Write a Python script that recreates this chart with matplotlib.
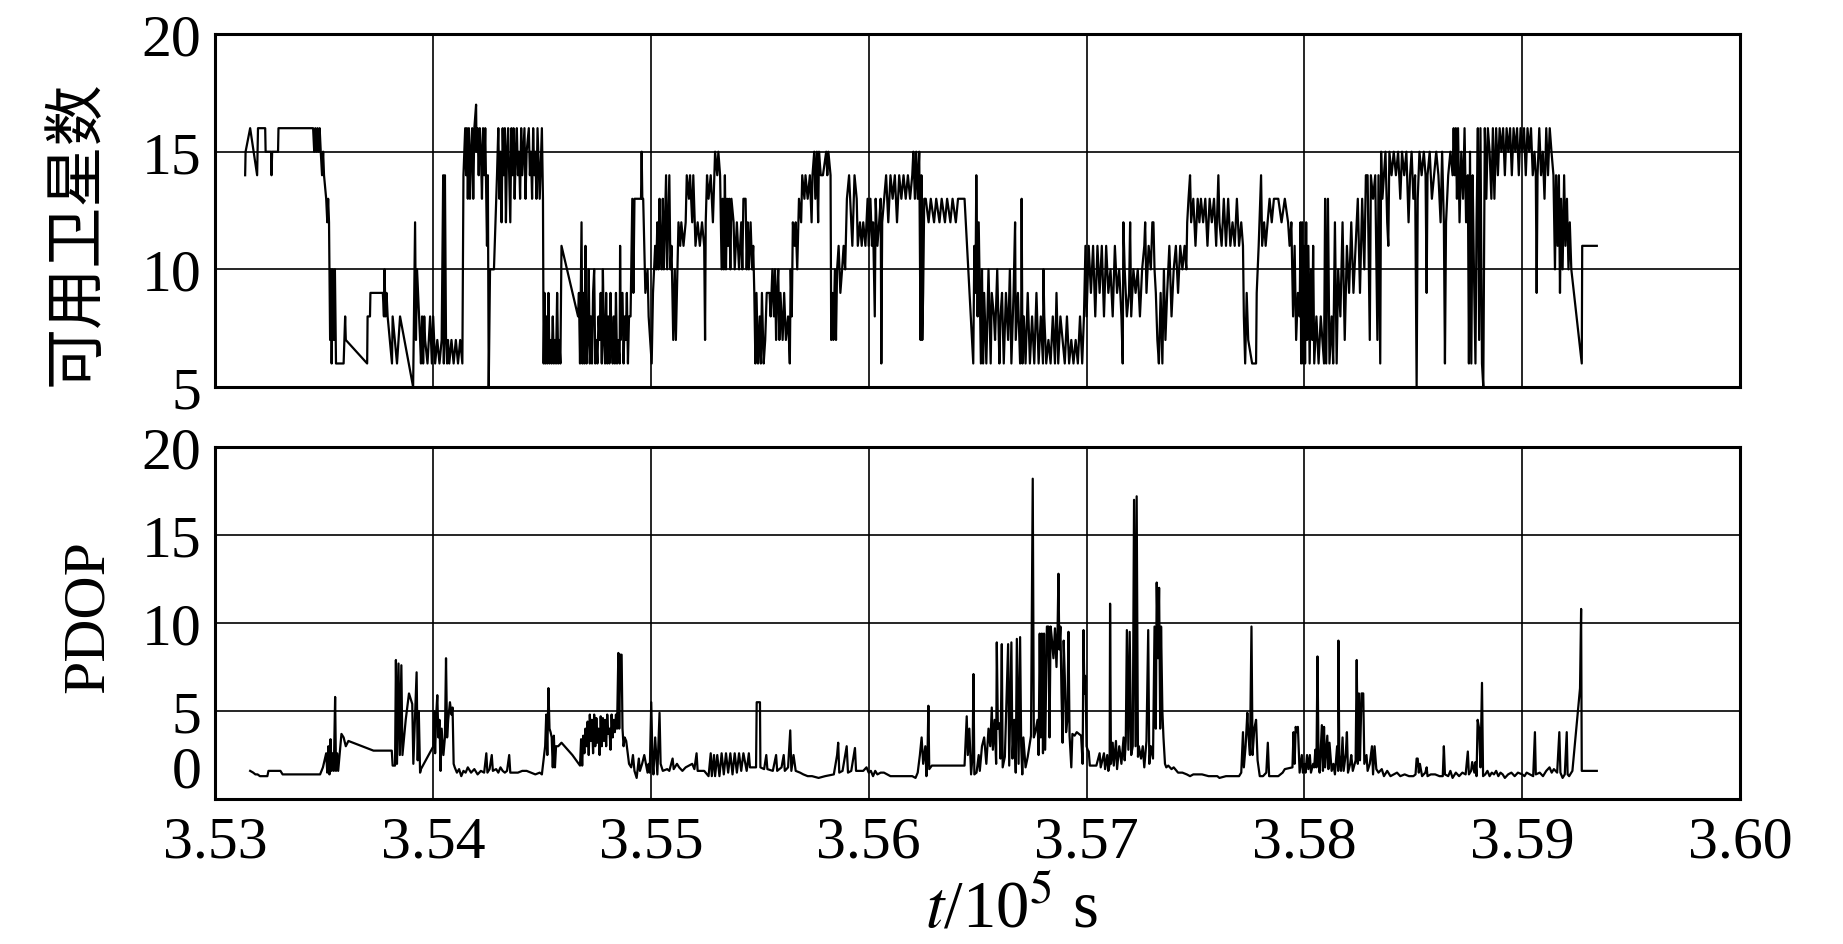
import matplotlib
matplotlib.use("Agg")
import matplotlib.pyplot as plt

# time base (s); sample times are given as seconds after T0
T0 = 353000

# ---- available satellites ----
t_sats = [
    138, 140, 161, 193, 197, 230, 232, 257, 259, 262,
    289, 291, 450, 455, 460, 465, 470, 475, 480, 485,
    491, 496, 500, 510, 515, 519, 523, 528, 532, 535,
    540, 545, 550, 555, 560, 590, 597, 600, 698, 700,
    711, 713, 770, 775, 778, 782, 787, 792, 812, 815,
    835, 849, 909, 918, 922, 927, 941, 945, 950, 955,
    960, 964, 975, 987, 995, 1001, 1010, 1020, 1030, 1040,
    1047, 1050, 1055, 1060, 1065, 1069, 1075, 1085, 1095, 1105,
    1115, 1125, 1135, 1140, 1148, 1152, 1156, 1160, 1165, 1170,
    1175, 1180, 1185, 1190, 1198, 1200, 1205, 1210, 1215, 1220,
    1225, 1230, 1235, 1240, 1248, 1252, 1256, 1262, 1280, 1294,
    1300, 1305, 1310, 1315, 1320, 1325, 1330, 1335, 1340, 1345,
    1350, 1355, 1360, 1365, 1370, 1375, 1380, 1385, 1390, 1395,
    1400, 1405, 1410, 1420, 1425, 1430, 1440, 1445, 1450, 1455,
    1460, 1465, 1470, 1475, 1480, 1490, 1500, 1505, 1508, 1512,
    1516, 1520, 1525, 1530, 1535, 1540, 1545, 1550, 1555, 1560,
    1565, 1570, 1575, 1580, 1585, 1590, 1666, 1670, 1675, 1682,
    1686, 1690, 1695, 1700, 1705, 1710, 1715, 1720, 1725, 1730,
    1735, 1740, 1745, 1750, 1755, 1760, 1765, 1770, 1775, 1780,
    1785, 1790, 1795, 1800, 1805, 1810, 1815, 1820, 1825, 1830,
    1835, 1840, 1845, 1850, 1857, 1859, 1862, 1870, 1875, 1880,
    1885, 1890, 1895, 1900, 1907, 1915, 1920, 1925, 1955, 1958,
    1961, 1965, 1975, 1985, 1990, 2004, 2010, 2020, 2025, 2030,
    2035, 2040, 2045, 2050, 2055, 2060, 2065, 2070, 2075, 2080,
    2085, 2090, 2095, 2103, 2110, 2115, 2122, 2127, 2135, 2140,
    2150, 2160, 2165, 2175, 2180, 2190, 2195, 2205, 2215, 2225,
    2235, 2245, 2249, 2252, 2258, 2265, 2275, 2285, 2292, 2295,
    2305, 2310, 2318, 2325, 2330, 2335, 2340, 2345, 2350, 2355,
    2360, 2365, 2370, 2380, 2385, 2395, 2405, 2415, 2420, 2425,
    2435, 2440, 2445, 2450, 2458, 2465, 2470, 2475, 2480, 2485,
    2492, 2500, 2505, 2510, 2518, 2525, 2532, 2545, 2550, 2558,
    2565, 2570, 2575, 2580, 2585, 2590, 2595, 2600, 2605, 2612,
    2620, 2630, 2638, 2642, 2647, 2652, 2660, 2665, 2672, 2680,
    2690, 2695, 2705, 2710, 2720, 2730, 2738, 2742, 2750, 2755,
    2762, 2768, 2772, 2780, 2790, 2805, 2810, 2815, 2825, 2828,
    2833, 2838, 2845, 2850, 2855, 2862, 2870, 2878, 2885, 2892,
    2900, 2910, 2915, 2925, 2935, 2945, 2950, 2960, 2968, 2975,
    2985, 2995, 3000, 3008, 3015, 3020, 3028, 3032, 3040, 3048,
    3055, 3058, 3062, 3080, 3090, 3100, 3110, 3120, 3130, 3140,
    3150, 3160, 3170, 3180, 3190, 3200, 3205, 3212, 3218, 3225,
    3232, 3238, 3242, 3246, 3250, 3255, 3262, 3275, 3285, 3300,
    3310, 3325, 3335, 3350, 3360, 3375, 3385, 3400, 3410, 3425,
    3440, 3480, 3485, 3490, 3494, 3500, 3505, 3510, 3515, 3520,
    3525, 3530, 3540, 3545, 3550, 3560, 3565, 3575, 3580, 3590,
    3600, 3605, 3612, 3620, 3630, 3640, 3648, 3655, 3665, 3672,
    3675, 3685, 3695, 3700, 3702, 3706, 3712, 3720, 3730, 3740,
    3750, 3760, 3770, 3780, 3790, 3800, 3802, 3806, 3815, 3825,
    3835, 3845, 3855, 3862, 3870, 3880, 3890, 3900, 3910, 3920,
    3930, 3940, 3950, 3960, 3970, 3980, 3988, 3995, 4000, 4010,
    4020, 4030, 4040, 4050, 4060, 4070, 4080, 4090, 4100, 4110,
    4120, 4130, 4140, 4150, 4160, 4166, 4169, 4175, 4185, 4195,
    4200, 4205, 4215, 4225, 4235, 4245, 4255, 4265, 4269, 4275,
    4285, 4295, 4302, 4307, 4312, 4318, 4325, 4332, 4340, 4348,
    4355, 4362, 4370, 4380, 4390, 4400, 4410, 4420, 4430, 4440,
    4450, 4458, 4462, 4468, 4475, 4480, 4490, 4500, 4510, 4518,
    4525, 4535, 4545, 4555, 4565, 4575, 4585, 4595, 4605, 4610,
    4620, 4630, 4640, 4650, 4660, 4670, 4680, 4690, 4700, 4710,
    4718, 4722, 4728, 4735, 4742, 4760, 4778, 4781, 4790, 4801,
    4806, 4815, 4822, 4840, 4850, 4860, 4880, 4895, 4910, 4925,
    4932, 4940, 4948, 4955, 4962, 4970, 4978, 4982, 4985, 4990,
    4994, 4998, 5003, 5008, 5012, 5018, 5024, 5030, 5036, 5040,
    5045, 5055, 5065, 5075, 5090, 5095, 5100, 5108, 5115, 5125,
    5132, 5140, 5148, 5155, 5165, 5175, 5185, 5195, 5205, 5215,
    5225, 5235, 5245, 5255, 5265, 5275, 5282, 5290, 5300, 5305,
    5315, 5325, 5335, 5340, 5348, 5352, 5358, 5365, 5372, 5380,
    5385, 5390, 5400, 5410, 5420, 5430, 5440, 5448, 5458, 5468,
    5478, 5485, 5492, 5500, 5508, 5515, 5520, 5528, 5538, 5548,
    5556, 5561, 5565, 5575, 5585, 5595, 5605, 5615, 5625, 5632,
    5640, 5645, 5650, 5660, 5670, 5680, 5685, 5690, 5695, 5700,
    5705, 5712, 5720, 5728, 5735, 5742, 5750, 5755, 5760, 5766,
    5772, 5778, 5785, 5790, 5796, 5802, 5808, 5815, 5821, 5828,
    5835, 5842, 5850, 5858, 5865, 5872, 5880, 5888, 5896, 5904,
    5912, 5920, 5928, 5936, 5944, 5952, 5960, 5968, 5976, 5984,
    5992, 6000, 6008, 6016, 6024, 6032, 6040, 6048, 6056, 6062,
    6066, 6070, 6078, 6086, 6094, 6102, 6110, 6118, 6126, 6134,
    6143, 6150, 6155, 6162, 6168, 6173, 6178, 6185, 6192, 6198,
    6205, 6212, 6218, 6225, 6273, 6275, 6342,
]
n_sats = [
    14, 15, 16, 14, 16, 16, 15, 15, 14, 15,
    15, 16, 16, 15, 16, 15, 16, 15, 16, 15,
    14, 15, 14, 13, 12, 13, 12, 7, 10, 6,
    10, 7, 10, 6, 6, 6, 8, 7, 6, 8,
    8, 9, 9, 8, 10, 8, 9, 8, 6, 8,
    6, 8, 5, 12, 7, 10, 7, 6, 8, 6,
    8, 7, 6, 8, 6, 8, 6, 7, 6, 7,
    14, 6, 14, 7, 6, 7, 6, 7, 6, 7,
    6, 7, 6, 14, 16, 14, 16, 13, 16, 13,
    15, 16, 13, 16, 17, 15, 16, 14, 16, 15,
    13, 16, 14, 16, 11, 14, 5, 10, 10, 14,
    16, 13, 15, 12, 16, 14, 16, 12, 15, 16,
    14, 12, 16, 14, 16, 13, 15, 16, 14, 15,
    13, 16, 14, 16, 13, 15, 16, 14, 15, 13,
    16, 14, 15, 13, 16, 13, 16, 13, 6, 9,
    6, 8, 6, 9, 6, 7, 6, 8, 6, 7,
    6, 9, 6, 7, 6, 11, 8, 9, 6, 12,
    6, 9, 6, 11, 6, 7, 10, 6, 8, 6,
    9, 10, 6, 7, 6, 8, 7, 9, 6, 10,
    7, 6, 9, 6, 8, 6, 9, 7, 6, 8,
    6, 9, 6, 7, 6, 11, 7, 9, 6, 8,
    7, 9, 6, 8, 8, 13, 9, 13, 13, 15,
    13, 13, 9, 10, 8, 6, 9, 11, 10, 12,
    10, 13, 11, 10, 13, 10, 12, 14, 10, 12,
    14, 10, 11, 7, 10, 7, 10, 12, 11, 12,
    11, 12, 14, 13, 14, 12, 14, 11, 12, 11,
    12, 11, 7, 12, 14, 13, 14, 12, 14, 15,
    14, 15, 14, 10, 13, 10, 14, 10, 13, 11,
    13, 10, 13, 12, 10, 12, 10, 12, 10, 13,
    13, 10, 12, 10, 12, 10, 11, 9, 6, 9,
    6, 8, 6, 9, 6, 7, 9, 9, 8, 10,
    8, 10, 7, 9, 10, 7, 9, 8, 7, 9,
    7, 8, 6, 10, 8, 12, 11, 12, 10, 13,
    12, 14, 13, 14, 13, 14, 12, 14, 15, 13,
    15, 12, 15, 14, 14, 15, 14, 15, 14, 7,
    9, 7, 10, 7, 10, 11, 9, 10, 11, 10,
    13, 14, 13, 11, 14, 13, 11, 12, 11, 12,
    11, 13, 11, 13, 11, 12, 8, 13, 11, 12,
    13, 6, 12, 14, 12, 14, 13, 14, 12, 14,
    13, 14, 13, 14, 13, 14, 15, 13, 15, 13,
    15, 7, 14, 7, 9, 13, 13, 12, 13, 12,
    13, 12, 13, 12, 13, 12, 13, 12, 13, 13,
    13, 6, 11, 9, 14, 8, 12, 9, 6, 10,
    6, 9, 6, 8, 10, 6, 9, 8, 7, 10,
    6, 8, 9, 6, 9, 7, 10, 6, 9, 12,
    7, 9, 6, 8, 13, 6, 8, 6, 9, 6,
    8, 6, 9, 6, 8, 6, 10, 8, 6, 7,
    6, 8, 6, 9, 6, 8, 7, 6, 8, 6,
    7, 6, 7, 6, 8, 6, 8, 11, 8, 11,
    9, 11, 8, 11, 9, 11, 8, 11, 9, 10,
    8, 11, 9, 10, 8, 6, 12, 10, 8, 9,
    12, 8, 10, 9, 10, 8, 10, 11, 12, 9,
    11, 10, 12, 12, 10, 9, 7, 6, 9, 6,
    10, 7, 9, 11, 8, 10, 11, 9, 11, 10,
    11, 10, 12, 13, 14, 12, 13, 11, 13, 12,
    13, 12, 13, 11, 13, 12, 13, 11, 14, 12,
    11, 13, 11, 13, 11, 12, 11, 13, 11, 12,
    11, 8, 6, 9, 7, 6, 6, 9, 11, 14,
    11, 12, 11, 13, 12, 13, 13, 12, 13, 12,
    11, 12, 8, 11, 7, 9, 8, 12, 6, 12,
    6, 11, 6, 12, 7, 11, 6, 10, 7, 11,
    6, 8, 6, 8, 6, 13, 6, 13, 6, 8,
    6, 12, 6, 10, 8, 12, 7, 11, 9, 12,
    9, 11, 13, 9, 13, 10, 14, 14, 7, 14,
    13, 14, 7, 14, 6, 15, 13, 14, 15, 12,
    11, 15, 14, 15, 14, 15, 13, 15, 14, 15,
    12, 14, 15, 13, 14, 5, 13, 15, 14, 15,
    14, 9, 14, 15, 13, 14, 15, 14, 12, 15,
    12, 6, 12, 14, 15, 14, 16, 14, 16, 13,
    16, 12, 15, 13, 16, 12, 14, 6, 15, 6,
    14, 10, 6, 12, 16, 7, 16, 6, 5, 16,
    13, 16, 15, 13, 16, 13, 16, 14, 16, 15,
    16, 14, 16, 15, 16, 14, 16, 15, 16, 14,
    16, 15, 16, 14, 16, 15, 16, 14, 15, 14,
    9, 14, 16, 14, 15, 13, 16, 14, 16, 15,
    14, 10, 14, 11, 14, 9, 13, 10, 14, 11,
    13, 10, 12, 10, 6, 11, 11,
]

# ---- PDOP ----
t_pdop = [
    161, 175, 185, 195, 206, 240, 245, 300, 310, 482,
    495, 510, 515, 520, 525, 530, 535, 540, 545, 551,
    555, 560, 565, 575, 580, 590, 600, 612, 727, 811,
    815, 826, 830, 835, 842, 848, 855, 860, 875, 890,
    905, 910, 925, 930, 935, 941, 945, 1002, 1005, 1010,
    1015, 1020, 1025, 1030, 1035, 1040, 1048, 1055, 1060, 1065,
    1070, 1078, 1085, 1090, 1095, 1100, 1110, 1120, 1130, 1140,
    1150, 1160, 1175, 1190, 1205, 1220, 1235, 1245, 1250, 1260,
    1270, 1275, 1290, 1300, 1310, 1320, 1330, 1340, 1350, 1355,
    1370, 1390, 1410, 1430, 1450, 1470, 1490, 1500, 1510, 1515,
    1520, 1525, 1530, 1535, 1540, 1545, 1550, 1555, 1560, 1565,
    1575, 1590, 1640, 1675, 1680, 1685, 1690, 1695, 1700, 1705,
    1710, 1715, 1720, 1725, 1730, 1735, 1740, 1745, 1750, 1755,
    1760, 1765, 1770, 1775, 1780, 1785, 1790, 1795, 1800, 1805,
    1810, 1815, 1820, 1825, 1830, 1835, 1840, 1845, 1851, 1855,
    1860, 1866, 1870, 1875, 1880, 1887, 1893, 1900, 1910, 1918,
    1925, 1935, 1945, 1950, 1960, 1970, 1985, 1990, 1995, 2002,
    2008, 2012, 2020, 2030, 2040, 2045, 2055, 2075, 2085, 2100,
    2105, 2120, 2130, 2145, 2160, 2175, 2190, 2200, 2210, 2215,
    2230, 2245, 2265, 2275, 2280, 2290, 2295, 2305, 2315, 2325,
    2335, 2345, 2355, 2365, 2375, 2385, 2395, 2405, 2415, 2425,
    2440, 2450, 2455, 2483, 2486, 2501, 2503, 2520, 2530, 2535,
    2560, 2575, 2580, 2600, 2610, 2615, 2630, 2640, 2645, 2655,
    2665, 2685, 2700, 2720, 2740, 2770, 2800, 2840, 2855, 2860,
    2865, 2880, 2899, 2905, 2920, 2937, 2942, 2960, 2975, 2990,
    3000, 3010, 3020, 3030, 3040, 3055, 3070, 3100, 3200, 3215,
    3225, 3235, 3243, 3250, 3260, 3265, 3270, 3274, 3278, 3290,
    3440, 3450, 3455, 3462, 3470, 3477, 3481, 3485, 3495, 3505,
    3510, 3520, 3530, 3540, 3550, 3558, 3565, 3570, 3578, 3585,
    3588, 3593, 3600, 3605, 3611, 3615, 3625, 3640, 3645, 3655,
    3660, 3668, 3675, 3680, 3688, 3695, 3700, 3705, 3710, 3720,
    3730, 3745, 3753, 3758, 3765, 3775, 3780, 3785, 3790, 3795,
    3800, 3805, 3810, 3818, 3825, 3830, 3835, 3840, 3848, 3855,
    3862, 3867, 3871, 3875, 3880, 3885, 3890, 3895, 3900, 3906,
    3912, 3917, 3922, 3930, 3935, 3945, 3955, 3965, 3975, 3982,
    3986, 3990, 3995, 4000, 4005, 4010, 4015, 4030, 4045, 4060,
    4065, 4080, 4085, 4095, 4100, 4106, 4108, 4112, 4120, 4125,
    4135, 4140, 4150, 4160, 4170, 4175, 4180, 4185, 4192, 4198,
    4205, 4212, 4218, 4225, 4230, 4236, 4240, 4250, 4258, 4265,
    4275, 4283, 4288, 4295, 4305, 4312, 4318, 4322, 4328, 4333,
    4338, 4342, 4348, 4353, 4360, 4366, 4375, 4390, 4400, 4420,
    4440, 4460, 4475, 4490, 4530, 4560, 4600, 4610, 4640, 4680,
    4700, 4710, 4718, 4722, 4730, 4738, 4742, 4750, 4757, 4762,
    4770, 4778, 4785, 4795, 4810, 4825, 4832, 4838, 4860, 4880,
    4900, 4910, 4945, 4950, 4955, 4960, 4965, 4970, 4978, 4988,
    4993, 5000, 5005, 5012, 5018, 5025, 5030, 5040, 5045, 5050,
    5055, 5060, 5065, 5070, 5080, 5085, 5090, 5095, 5105, 5110,
    5115, 5125, 5133, 5140, 5150, 5155, 5156, 5160, 5168, 5175,
    5180, 5190, 5195, 5200, 5210, 5215, 5222, 5235, 5240, 5245,
    5250, 5255, 5262, 5270, 5275, 5285, 5290, 5300, 5310, 5315,
    5322, 5330, 5340, 5355, 5365, 5380, 5395, 5410, 5425, 5440,
    5460, 5480, 5500, 5510, 5515, 5520, 5525, 5530, 5540, 5555,
    5561, 5565, 5580, 5600, 5620, 5635, 5640, 5645, 5660, 5670,
    5680, 5695, 5710, 5725, 5740, 5750, 5755, 5765, 5770, 5780,
    5785, 5790, 5795, 5802, 5808, 5815, 5820, 5830, 5840, 5850,
    5860, 5870, 5880, 5890, 5900, 5910, 5920, 5935, 5950, 5965,
    5980, 6000, 6010, 6020, 6035, 6050, 6058, 6062, 6080, 6095,
    6110, 6125, 6135, 6145, 6160, 6170, 6175, 6185, 6195, 6204,
    6208, 6215, 6230, 6265, 6270, 6273, 6342,
]
pdop = [
    1.6, 1.5, 1.4, 1.4, 1.3, 1.3, 1.6, 1.6, 1.4, 1.4,
    1.8, 2.6, 1.5, 3.0, 1.4, 3.4, 1.6, 2.6, 1.6, 5.8,
    1.6, 2.6, 1.6, 3.0, 3.7, 3.5, 3.0, 3.3, 2.75, 2.75,
    1.9, 1.9, 7.9, 2.0, 7.7, 2.5, 7.6, 2.5, 4.5, 6.0,
    5.4, 2.0, 7.2, 2.2, 5.0, 1.5, 1.7, 3.0, 5.0, 2.6,
    4.8, 5.9, 3.5, 4.5, 1.6, 4.0, 2.5, 3.5, 8.0, 3.5,
    4.5, 5.5, 4.8, 5.2, 2.0, 1.8, 1.5, 1.7, 1.3, 1.6,
    1.5, 1.8, 1.5, 1.7, 1.4, 1.6, 1.5, 2.6, 1.5, 1.7,
    2.5, 1.6, 1.7, 1.5, 1.8, 1.6, 1.5, 1.6, 2.5, 1.5,
    1.5, 1.5, 1.6, 1.6, 1.5, 1.4, 1.5, 1.4, 2.5, 3.0,
    4.8, 2.5, 6.3, 4.0, 3.8, 3.5, 1.8, 3.6, 1.8, 3.0,
    3.0, 3.2, 2.5, 1.9, 3.4, 1.9, 3.6, 2.6, 4.0, 3.0,
    4.4, 2.5, 4.8, 3.3, 4.5, 2.6, 4.8, 3.0, 4.6, 3.2,
    4.0, 2.5, 4.7, 3.0, 4.6, 3.3, 4.5, 3.0, 4.8, 3.7,
    4.0, 2.8, 4.8, 3.5, 4.5, 3.8, 4.8, 4.0, 8.3, 4.0,
    8.2, 8.2, 4.0, 3.0, 3.5, 3.3, 2.7, 2.0, 1.8, 2.5,
    1.6, 1.2, 2.3, 1.6, 2.0, 2.5, 1.5, 2.0, 1.5, 5.5,
    2.0, 1.4, 3.5, 1.4, 4.9, 2.0, 1.6, 1.7, 1.6, 2.3,
    1.7, 2.0, 1.8, 1.6, 1.8, 1.9, 2.0, 1.7, 2.6, 1.6,
    1.6, 1.6, 1.3, 2.6, 1.3, 2.5, 1.3, 2.5, 1.3, 2.6,
    1.4, 2.6, 1.5, 2.6, 1.4, 2.6, 1.5, 2.6, 1.6, 2.6,
    1.6, 2.6, 1.8, 1.8, 5.5, 5.5, 1.8, 1.7, 2.5, 1.7,
    1.6, 2.5, 1.6, 1.8, 2.5, 1.6, 1.8, 3.9, 1.6, 2.5,
    1.6, 1.5, 1.4, 1.3, 1.3, 1.2, 1.3, 1.4, 2.5, 3.2,
    1.5, 1.6, 3.0, 1.5, 1.6, 2.9, 1.6, 1.6, 1.6, 1.8,
    1.5, 1.6, 1.3, 1.6, 1.4, 1.5, 1.5, 1.3, 1.3, 1.2,
    1.5, 2.5, 3.5, 2.0, 3.0, 1.3, 2.5, 5.3, 1.7, 1.9,
    1.9, 4.7, 2.5, 4.0, 1.4, 2.5, 7.1, 1.4, 1.5, 2.5,
    1.6, 3.0, 3.5, 2.0, 4.0, 3.0, 5.2, 2.8, 4.5, 2.0,
    8.9, 4.0, 4.3, 2.3, 8.8, 1.8, 2.4, 8.8, 1.9, 8.9,
    2.3, 4.5, 1.5, 9.1, 2.0, 9.2, 3.0, 1.4, 3.5, 1.8,
    2.4, 3.6, 18.2, 3.5, 3.8, 4.5, 2.5, 9.4, 3.5, 9.4,
    2.6, 9.4, 2.8, 9.8, 9.8, 3.5, 9.8, 9.2, 8.0, 9.7,
    7.5, 9.6, 12.8, 8.5, 9.8, 6.0, 3.2, 9.0, 7.0, 3.8,
    4.5, 9.5, 3.6, 1.8, 3.7, 3.6, 3.8, 3.7, 3.6, 2.0,
    9.6, 6.0, 7.0, 3.0, 2.8, 2.7, 1.9, 1.9, 1.9, 2.6,
    1.8, 2.6, 1.7, 2.5, 1.6, 2.0, 11.1, 2.0, 3.2, 1.9,
    3.3, 1.7, 3.0, 2.0, 3.5, 2.2, 3.3, 9.6, 2.8, 9.5,
    2.5, 3.0, 17.0, 3.0, 17.2, 2.4, 3.0, 2.3, 3.0, 1.8,
    3.3, 9.6, 2.0, 3.0, 2.3, 9.8, 4.0, 12.3, 8.0, 12.0,
    4.0, 9.8, 5.0, 3.5, 2.0, 1.8, 1.9, 1.7, 1.8, 1.5,
    1.5, 1.4, 1.3, 1.4, 1.4, 1.3, 1.3, 1.2, 1.3, 1.3,
    1.3, 1.5, 3.8, 1.8, 3.0, 4.9, 3.8, 2.5, 9.8, 2.5,
    4.0, 4.5, 2.2, 1.3, 1.3, 1.5, 3.2, 1.3, 1.3, 1.3,
    1.5, 1.7, 1.8, 3.8, 2.0, 4.1, 3.8, 4.1, 1.5, 2.5,
    1.5, 2.0, 1.5, 2.5, 1.7, 2.5, 1.5, 2.0, 1.8, 2.8,
    1.8, 8.1, 2.0, 1.5, 4.2, 1.6, 4.1, 1.8, 3.6, 1.7,
    3.2, 1.6, 2.0, 1.4, 3.0, 1.6, 9.0, 2.5, 1.6, 3.5,
    1.6, 2.6, 3.8, 1.5, 2.0, 2.5, 1.6, 2.2, 7.9, 2.0,
    6.0, 2.2, 6.0, 6.0, 2.0, 2.5, 1.6, 2.0, 3.0, 1.4,
    3.0, 1.7, 1.5, 1.7, 1.3, 1.6, 1.3, 1.4, 1.5, 1.3,
    1.4, 1.3, 1.3, 1.4, 2.3, 2.3, 1.5, 2.0, 1.3, 1.5,
    1.8, 1.3, 1.4, 1.4, 1.3, 1.3, 3.0, 1.4, 1.3, 1.6,
    1.2, 1.5, 1.3, 1.5, 1.4, 2.7, 1.4, 1.6, 2.1, 1.5,
    2.1, 1.3, 4.5, 4.0, 1.8, 6.6, 1.3, 1.4, 1.6, 1.3,
    1.5, 1.4, 1.6, 1.3, 1.5, 1.4, 1.2, 1.4, 1.5, 1.3,
    1.5, 1.4, 1.3, 1.5, 1.4, 1.3, 3.8, 1.4, 1.5, 1.3,
    1.6, 1.8, 1.5, 1.7, 1.5, 3.8, 1.5, 1.2, 1.4, 3.8,
    1.4, 1.3, 1.6, 6.3, 10.8, 1.6, 1.6,
]

x_ticks = [3.53, 3.54, 3.55, 3.56, 3.57, 3.58, 3.59, 3.60]
x_labels = ["3.53", "3.54", "3.55", "3.56", "3.57", "3.58", "3.59", "3.60"]

assert len(t_sats) == len(n_sats)
assert len(t_pdop) == len(pdop)

plt.rcParams['font.family'] = ['Liberation Serif', 'Noto Sans CJK SC']
plt.rcParams['mathtext.fontset'] = 'stix'

fig = plt.figure(figsize=(18.43, 9.45), dpi=100)
ax1 = fig.add_axes([0.1167, 0.5894, 0.8275, 0.3735])
ax2 = fig.add_axes([0.1167, 0.1534, 0.8275, 0.3725])

x_sats = [(T0 + t) / 1e5 for t in t_sats]
x_pdop = [(T0 + t) / 1e5 for t in t_pdop]

ax1.plot(x_sats, n_sats, color='black', lw=1.6)
ax2.plot(x_pdop, pdop, color='black', lw=1.6)

for ax in (ax1, ax2):
    ax.set_xlim(3.53, 3.60)
    ax.set_xticks(x_ticks)
    ax.set_axisbelow(True)
    ax.grid(True, color='black', lw=1.2)
    for s in ax.spines.values():
        s.set_linewidth(2.2)
    ax.tick_params(length=0, labelsize=43)
    ax.tick_params(axis='y', pad=10)
    ax.tick_params(axis='x', pad=12)

ax1.set_ylim(5, 20)
ax1.set_yticks([5, 10, 15, 20])
ax1.tick_params(labelbottom=False)

ax2.set_ylim(0, 20)
ax2.set_yticks([0, 5, 10, 15, 20])
ax2.set_xticklabels(x_labels)

# the "0" label sits a little higher, clear of the x tick labels
fig.canvas.draw()
ax2.get_yticklabels()[0].set_verticalalignment('bottom')

ax1.text(-0.091, 0.44, '可用卫星数', rotation=90, fontsize=44,
         family=['Noto Sans CJK SC'], ha='center', va='center',
         transform=ax1.transAxes)
ax2.text(-0.083, 0.52, 'PDOP', rotation=90, fontsize=43,
         ha='center', va='center', transform=ax2.transAxes)

fig.text(0.549, 0.037, r'$t$/10$^5$ s', fontsize=48, ha='center', va='center')

fig.savefig('out.png', dpi=100)
